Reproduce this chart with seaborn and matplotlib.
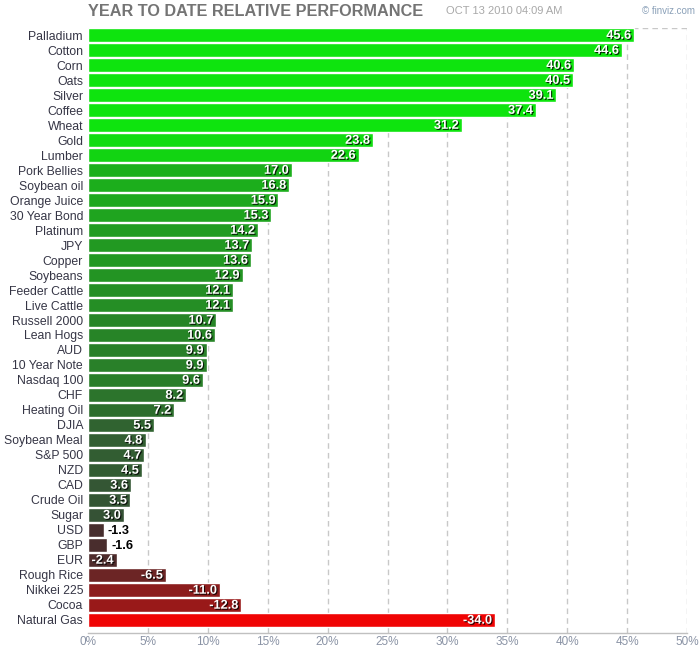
import numpy as np
import pandas as pd
import matplotlib
matplotlib.use("Agg")
import matplotlib.pyplot as plt
import matplotlib.patheffects as pe
import seaborn as sns

# Data (YTD % performance)
names = ["Palladium", "Cotton", "Corn", "Oats", "Silver", "Coffee", "Wheat", "Gold",
         "Lumber", "Pork Bellies", "Soybean oil", "Orange Juice", "30 Year Bond",
         "Platinum", "JPY", "Copper", "Soybeans", "Feeder Cattle", "Live Cattle",
         "Russell 2000", "Lean Hogs", "AUD", "10 Year Note", "Nasdaq 100", "CHF",
         "Heating Oil", "DJIA", "Soybean Meal", "S&P 500", "NZD", "CAD", "Crude Oil",
         "Sugar", "USD", "GBP", "EUR", "Rough Rice", "Nikkei 225", "Cocoa", "Natural Gas"]
values = [45.6, 44.6, 40.6, 40.5, 39.1, 37.4, 31.2, 23.8,
          22.6, 17.0, 16.8, 15.9, 15.3,
          14.2, 13.7, 13.6, 12.9, 12.1, 12.1,
          10.7, 10.6, 9.9, 9.9, 9.6, 8.2,
          7.2, 5.5, 4.8, 4.7, 4.5, 3.6, 3.5,
          3.0, -1.3, -1.6, -2.4, -6.5, -11.0, -12.8, -34.0]
xticks = [0, 5, 10, 15, 20, 25, 30, 35, 40, 45, 50]

df = pd.DataFrame({"name": names, "value": values})
df["size"] = df["value"].abs()


def bar_color(v):
    t = min(abs(v) / 25.0, 1.0)
    if v >= 0:
        base, top = np.array([58, 62, 58]), np.array([14, 228, 14])
    else:
        base, top = np.array([62, 48, 48]), np.array([240, 4, 4])
    return tuple((base + (top - base) * t) / 255.0)


palette = [bar_color(v) for v in df["value"]]

sns.set_style("white")
plt.rcParams["font.family"] = ["Liberation Sans", "DejaVu Sans"]

fig = plt.figure(figsize=(7, 6.5), dpi=100)
ax = fig.add_axes([88 / 700, 1 - 633 / 650, 599 / 700, 605 / 650])

sns.barplot(data=df, x="size", y="name", hue="name", palette=palette,
            legend=False, dodge=False, width=0.93, saturation=1, ax=ax)

ax.set_xlim(0, 50)
ax.set_ylim(len(names) - 1 + 0.87, -0.47)
ax.set_xticks(xticks)
ax.set_xticklabels([f"{t}%" for t in xticks], color="#8a93a5", fontsize=8.5)
ax.tick_params(axis="x", length=0, pad=2)
ax.tick_params(axis="y", length=0, pad=3.6)
for lab in ax.get_yticklabels():
    lab.set_color("#353545")
    lab.set_fontsize(8.8)
ax.set_xlabel("")
ax.set_ylabel("")

# dashed grid + frame
for t in xticks[1:]:
    ax.axvline(t, color="#c8c8c8", ls=(0, (4, 3)), lw=1, zorder=0)
ax.axhline(-0.47, color="#c8c8c8", ls=(0, (4, 3)), lw=1, zorder=0)
for s in ["top", "right", "left"]:
    ax.spines[s].set_visible(False)
ax.spines["bottom"].set_color("#c0c0c0")
ax.spines["bottom"].set_linewidth(1)

shadow = [pe.withSimplePatchShadow(offset=(0.8, -0.8), shadow_rgbFace="#000000", alpha=0.8)]
for i, v in enumerate(values):
    s = abs(v)
    txt = f"{v:.1f}"
    if s < 2:
        ax.text(s + 0.35, i + 0.05, txt, ha="left", va="center", fontsize=9.2,
                fontweight="bold", color="#000000")
    else:
        ax.text(s - 0.25, i + 0.05, txt, ha="right", va="center", fontsize=9.2,
                fontweight="bold", color="white", path_effects=shadow)

fig.text(88 / 700, 1 - 12 / 650, "YEAR TO DATE RELATIVE PERFORMANCE", ha="left",
         va="center", fontsize=11.7, fontweight="bold", color="#747474")
fig.text(446 / 700, 1 - 11 / 650, "OCT 13 2010 04:09 AM", ha="left", va="center",
         fontsize=8, color="#a8a8a8")
fig.text(695 / 700, 1 - 11 / 650, "\u00a9 finviz.com", ha="right", va="center",
         fontsize=7, color="#8aa0b8")

fig.savefig("out.png", dpi=100)
